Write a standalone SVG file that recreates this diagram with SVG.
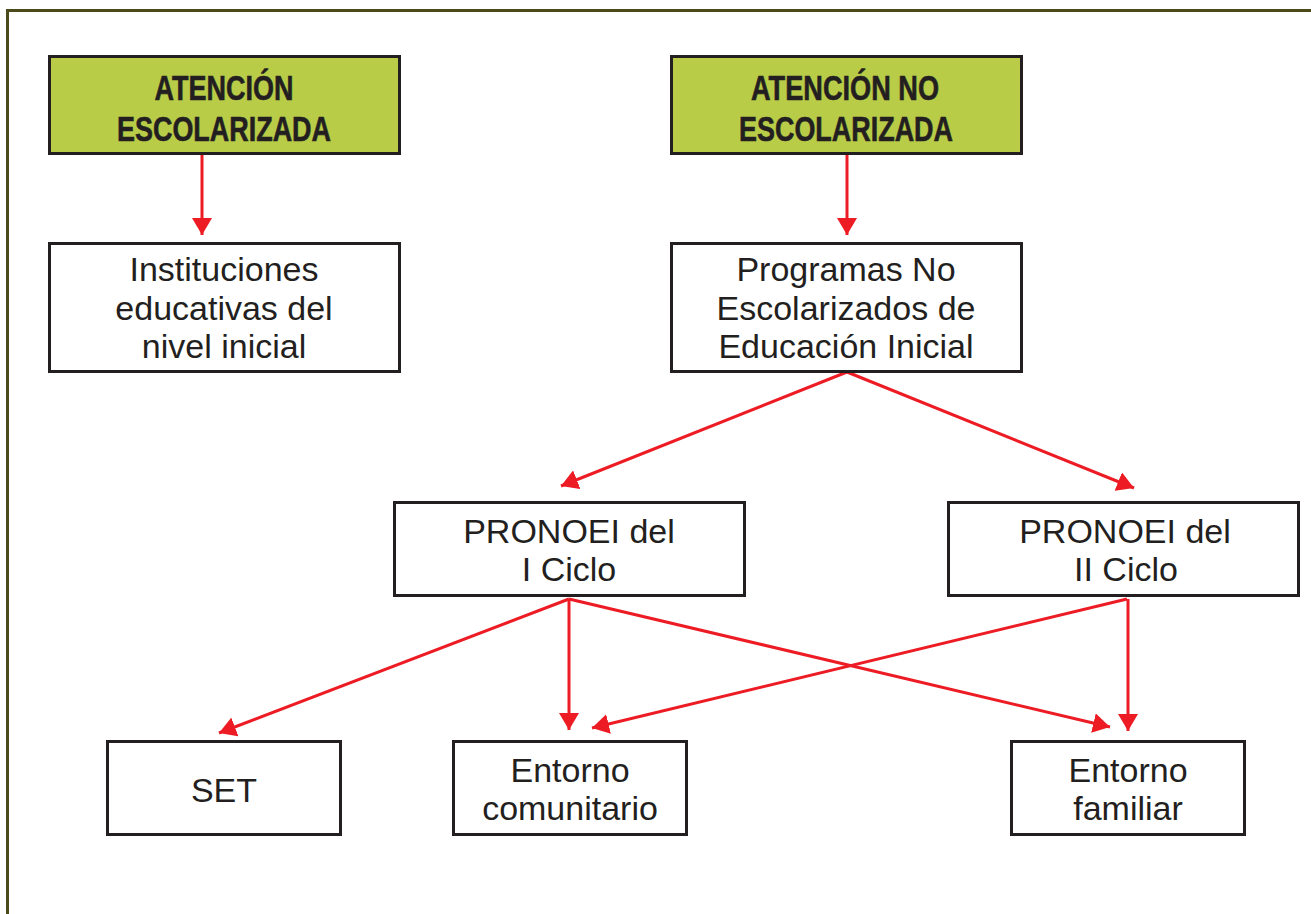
<svg xmlns="http://www.w3.org/2000/svg" width="1311" height="914" viewBox="0 0 1311 914">
<style>
.box{fill:#fff;stroke:#231f20;stroke-width:3}
.head{fill:#b8cc48;stroke:#231f20;stroke-width:3}
.ht{font-family:"Liberation Sans",Arial,sans-serif;font-weight:bold;font-size:35px;fill:#231f20;text-anchor:middle;stroke:#231f20;stroke-width:0.6}
.t{font-family:"Liberation Sans",Arial,sans-serif;font-size:34px;fill:#231f20;text-anchor:middle}
.c{stroke:#ed1c24;stroke-width:3;fill:none;marker-end:url(#ah)}
</style>
<defs>
<marker id="ah" viewBox="0 0 17 20" refX="17" refY="10" markerWidth="17" markerHeight="20" markerUnits="userSpaceOnUse" orient="auto">
<path d="M0,0 L17,10 L0,20 z" fill="#ed1c24"/>
</marker>
</defs>
<rect x="0" y="0" width="1311" height="914" fill="#fff"/>
<rect x="7.5" y="10.5" width="1330" height="930" fill="none" stroke="#4a4a1a" stroke-width="3"/>
<g id="connectors">
<line class="c" x1="202" y1="155" x2="202" y2="235"/>
<line class="c" x1="847" y1="155" x2="847" y2="235"/>
<line class="c" x1="847" y1="372" x2="561" y2="486"/>
<line class="c" x1="847" y1="372" x2="1134" y2="488"/>
<line class="c" x1="569" y1="599" x2="219" y2="733"/>
<line class="c" x1="569" y1="599" x2="569" y2="730"/>
<line class="c" x1="569" y1="599" x2="1110" y2="727"/>
<line class="c" x1="1127" y1="599" x2="592" y2="728"/>
<line class="c" x1="1128" y1="599" x2="1128" y2="731"/>
</g>
<g id="n-escolarizada">
<rect class="head" x="49.5" y="56.5" width="350" height="97"/>
<text class="ht" x="224" y="100" textLength="139" lengthAdjust="spacingAndGlyphs">ATENCIÓN</text>
<text class="ht" x="224" y="141" textLength="214" lengthAdjust="spacingAndGlyphs">ESCOLARIZADA</text>
</g>
<g id="n-noescolarizada">
<rect class="head" x="671.5" y="56.5" width="350" height="97"/>
<text class="ht" x="845" y="100" textLength="188" lengthAdjust="spacingAndGlyphs">ATENCIÓN NO</text>
<text class="ht" x="846" y="141" textLength="214" lengthAdjust="spacingAndGlyphs">ESCOLARIZADA</text>
</g>
<g id="n-instituciones">
<rect class="box" x="49.5" y="243.5" width="350" height="128"/>
<text class="t" x="224" y="281">Instituciones</text>
<text class="t" x="224" y="320">educativas del</text>
<text class="t" x="224" y="358">nivel inicial</text>
</g>
<g id="n-programas">
<rect class="box" x="671.5" y="243.5" width="350" height="128"/>
<text class="t" x="846" y="281">Programas No</text>
<text class="t" x="846" y="320">Escolarizados de</text>
<text class="t" x="846" y="358">Educación Inicial</text>
</g>
<g id="n-pronoei1">
<rect class="box" x="394.5" y="502.5" width="350" height="93"/>
<text class="t" x="569" y="543">PRONOEI del</text>
<text class="t" x="569" y="581">I Ciclo</text>
</g>
<g id="n-pronoei2">
<rect class="box" x="948.5" y="502.5" width="350" height="93"/>
<text class="t" x="1125" y="543">PRONOEI del</text>
<text class="t" x="1126" y="581">II Ciclo</text>
</g>
<g id="n-set">
<rect class="box" x="107.5" y="741.5" width="233" height="93"/>
<text class="t" x="224" y="802">SET</text>
</g>
<g id="n-comunitario">
<rect class="box" x="453.5" y="741.5" width="233" height="93"/>
<text class="t" x="570" y="782">Entorno</text>
<text class="t" x="570" y="820">comunitario</text>
</g>
<g id="n-familiar">
<rect class="box" x="1011.5" y="741.5" width="233" height="93"/>
<text class="t" x="1128" y="782">Entorno</text>
<text class="t" x="1128" y="820">familiar</text>
</g>
</svg>
